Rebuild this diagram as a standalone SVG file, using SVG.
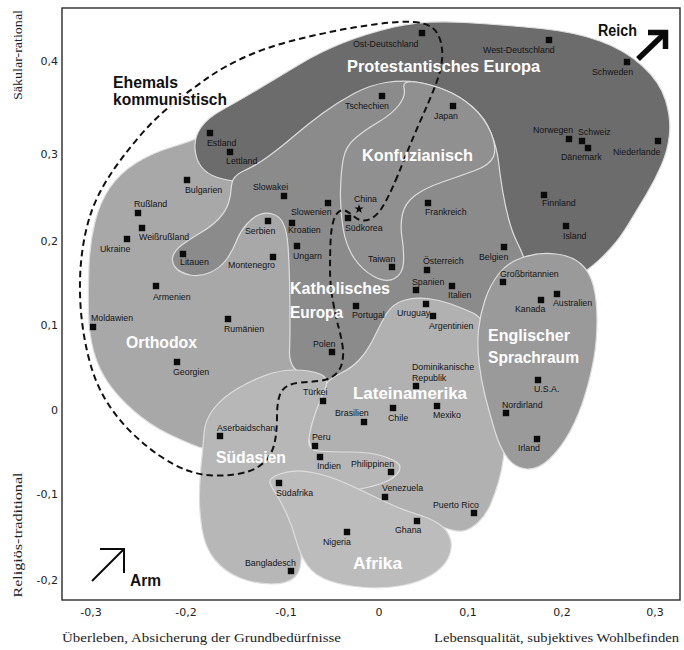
<svg xmlns="http://www.w3.org/2000/svg" xmlns:xlink="http://www.w3.org/1999/xlink" width="684" height="650" viewBox="0 0 684 650">
  <style>
    .rg { stroke: #dedede; stroke-width: 1.2; stroke-linejoin: round; }
    .lbl { font-family: "Liberation Sans", Arial, sans-serif; font-size: 8.8px; fill: #141414; }
    .reg { font-family: "Liberation Sans", Arial, sans-serif; font-weight: bold; font-size: 17px; fill: #ffffff; }
    .blk { font-family: "Liberation Sans", Arial, sans-serif; font-weight: bold; font-size: 16px; fill: #111111; }
    .tick { font-family: "DejaVu Sans", Verdana, sans-serif; font-size: 11px; fill: #222222; }
    .axt { font-family: "Liberation Serif", "DejaVu Serif", serif; font-size: 12.5px; fill: #222222; }
    .vax { font-family: "Liberation Serif", "DejaVu Serif", serif; font-size: 12.5px; fill: #222222; }
    .mk { fill: #0b0b0b; }
  </style>
  <defs>
    <rect id="mk" class="mk" x="-3.2" y="-3.2" width="6.4" height="6.4"/>
  </defs>
  <rect width="684" height="650" fill="#ffffff"/>

  <!-- cultural zones, back to front -->
  <g id="zone-orthodox">
    <path class="rg" fill="#a8a8a8" d="M203.5,135.5 Q192,141 172,147 Q152,153 136,163 Q120,173 110,187.5 Q100,202 95,222 Q90,242 89,266 Q88,290 88.5,312.5 Q89,335 94,352.5 Q99,370 109,384 Q119,398 134.5,411.5 Q150,425 167.5,433.5 Q185,442 198.5,447 Q212,452 231,428.5 Q250,405 285,395 Q320,385 315,292.5 Q310,200 275,186 Q240,172 227.5,151 Q215,130 203.5,135.5 Z"/>
  </g>
  <g id="zone-protestant">
    <path class="rg" fill="#6c6c6c" d="M201.5,167 Q196,160 195,149 Q194,138 200.5,128 Q207,118 223.5,109 Q240,100 260,88 Q280,76 300,64 Q320,52 342.5,43 Q365,34 394,27 Q423,20 465,22.5 Q507,25 541,28.5 Q575,32 600,41 Q625,50 642.5,66 Q660,82 665.5,100 Q671,118 669.5,134 Q668,150 661.5,165 Q655,180 646,195 Q637,210 628.5,224 Q620,238 611,248 Q602,258 593.5,265 Q585,272 570,282 Q555,292 512.5,276 Q470,260 435,240 Q400,220 350,196 Q300,172 277.5,177 Q255,182 241.5,181.5 Q228,181 217.5,177.5 Q207,174 201.5,167 Z"/>
  </g>
  <g id="zone-catholic">
    <path class="rg" fill="#8b8b8b" d="M243.5,171 Q232,176 231.5,185.5 Q231,195 228.5,203 Q226,211 219,218.5 Q212,226 201,232.5 Q190,239 182.5,244.5 Q175,250 173,256 Q171,262 175.5,267.5 Q180,273 190,275 Q200,277 210,272.5 Q220,268 226,260 Q232,252 236,242 Q240,232 246,225 Q252,218 258.5,215 Q265,212 272.5,214 Q280,216 283.5,224 Q287,232 288,246 Q289,260 289.5,280 Q290,300 290,320 Q290,340 289.5,351 Q289,362 294.5,368.5 Q300,375 315,381.5 Q330,388 342.5,394 Q355,400 387.5,372.5 Q420,345 456,345 Q492,345 511,310 Q530,275 526,263.5 Q522,252 517,242 Q512,232 508.5,218.5 Q505,205 502.5,190 Q500,175 498.5,161.5 Q497,148 491,133 Q485,118 472.5,107 Q460,96 445,90 Q430,84 416,82 Q402,80 386,82.5 Q370,85 354,93.5 Q338,102 323,113 Q308,124 294,136 Q280,148 267.5,157 Q255,166 243.5,171 Z"/>
  </g>
  <g id="zone-confucian">
    <path class="rg" fill="#909090" d="M404,88 Q402,80 416,82 Q430,84 445,90 Q460,96 472.5,107 Q485,118 491,133 Q497,148 493.5,156.5 Q490,165 475,170.5 Q460,176 442.5,182 Q425,188 415,195.5 Q405,203 402.5,214 Q400,225 402,237.5 Q404,250 403.5,262 Q403,274 394.5,278.5 Q386,283 374,276.5 Q362,270 354,258 Q346,246 343,228 Q340,210 340.5,190 Q341,170 343.5,158 Q346,146 355.5,138 Q365,130 378.5,122 Q392,114 399,105 Q406,96 404,88 Z"/>
  </g>
  <g id="zone-latin-america">
    <path class="rg" fill="#b1b1b1" d="M321,389 Q330,378 341,373 Q352,368 360,359 Q368,350 374,337.5 Q380,325 386,314.5 Q392,304 403.5,300.5 Q415,297 427.5,298.5 Q440,300 451,304 Q462,308 473,313 Q484,318 485,334 Q486,350 488,370 Q490,390 495,405 Q500,420 502.5,432.5 Q505,445 503.5,457.5 Q502,470 498.5,482 Q495,494 490.5,504.5 Q486,515 478,522.5 Q470,530 462.5,531 Q455,532 442.5,527 Q430,522 405,515 Q380,508 355,495 Q330,482 317.5,461 Q305,440 308.5,420 Q312,400 321,389 Z"/>
  </g>
  <g id="zone-english">
    <path class="rg" fill="#9a9a9a" d="M524,257 Q540,252 556,254 Q572,256 581,264 Q590,272 593.5,286 Q597,300 597,320 Q597,340 594,357.5 Q591,375 585,395 Q579,415 570,431.5 Q561,448 549.5,459 Q538,470 526.5,469 Q515,468 507.5,458 Q500,448 495,431.5 Q490,415 485.5,397.5 Q481,380 479,362.5 Q477,345 478.5,330 Q480,315 485,300 Q490,285 499,273.5 Q508,262 524,257 Z"/>
  </g>
  <g id="zone-south-asia">
    <path class="rg" fill="#b7b7b7" d="M201.5,461 Q203,447 204,433.5 Q205,420 213.5,409 Q222,398 236,389.5 Q250,381 265,375.5 Q280,370 295,370 Q310,370 320,374 Q330,378 325,389 Q320,400 315.5,412.5 Q311,425 309,437.5 Q307,450 318.5,451 Q330,452 350,452 Q370,452 382.5,456 Q395,460 398.5,464 Q402,468 397.5,473.5 Q393,479 384,482.5 Q375,486 360,489 Q345,492 327.5,501 Q310,510 305,525 Q300,540 301,555 Q302,570 295,577 Q288,584 271.5,584 Q255,584 240,578 Q225,572 215,560 Q205,548 202,529 Q199,510 199.5,492.5 Q200,475 201.5,461 Z"/>
  </g>
  <g id="zone-africa">
    <path class="rg" fill="#bcbcbc" d="M270,483 Q268,478 281.5,473.5 Q295,469 312.5,472.5 Q330,476 347.5,484 Q365,492 382.5,500.5 Q400,509 415,513.5 Q430,518 439,524 Q448,530 450.5,539.5 Q453,549 448,558.5 Q443,568 431.5,575 Q420,582 402.5,585.5 Q385,589 365,587.5 Q345,586 330,581 Q315,576 307.5,565.5 Q300,555 296,540 Q292,525 286,512.5 Q280,500 276,494 Q272,488 270,483 Z"/>
  </g>

  <!-- former communist boundary and direction arrows -->
  <g id="connectors" fill="none" stroke="#111111">
    <path id="ex-communist" stroke-width="2" stroke-dasharray="6.5 4" d="M397.5,176 Q393,187 389,195 Q385,203 381.5,208.5 Q378,214 373,217.5 Q368,221 363,220.5 Q358,220 354,216.5 Q350,213 346,211 Q342,209 338.5,212 Q335,215 333,222.5 Q331,230 330.5,242.5 Q330,255 330,270 Q330,285 333,301.5 Q336,318 338.5,327 Q341,336 342.5,345.5 Q344,355 342,363 Q340,371 334,375.5 Q328,380 319,381 Q310,382 301,382.5 Q292,383 286.5,386.5 Q281,390 279,397.5 Q277,405 277,416.5 Q277,428 275.5,438 Q274,448 270,455 Q266,462 258,467 Q250,472 237.5,474 Q225,476 212.5,475.5 Q200,475 187.5,470.5 Q175,466 160,456 Q145,446 130,431 Q115,416 104.5,398 Q94,380 88,355 Q82,330 80.5,305 Q79,280 81.5,257.5 Q84,235 90,216 Q96,197 108.5,177.5 Q121,158 138.5,137.5 Q156,117 174.5,102.5 Q193,88 209,77 Q225,66 245,57 Q265,48 287.5,42 Q310,36 332.5,31.5 Q355,27 377.5,24 Q400,21 413,22 Q426,23 432,27.5 Q438,32 440.5,41 Q443,50 442,60 Q441,70 437,81 Q433,92 428,103.5 Q423,115 417.5,127.5 Q412,140 407,152.5 Q402,165 397.5,176 Z"/>
    <g id="arrow-rich" stroke="#0a0a0a" stroke-width="5.5" stroke-linejoin="miter">
      <line x1="638" y1="59" x2="663" y2="35"/>
      <polyline points="648,32.5 665.5,32.5 665.5,49"/>
    </g>
    <g id="arrow-poor" stroke="#0a0a0a" stroke-width="2">
      <line x1="92" y1="581" x2="123.5" y2="549.5"/>
      <polyline points="100,549 124,549 124,573"/>
    </g>
  </g>

  <!-- plot frame and axes -->
  <g id="axes">
    <rect x="62" y="8" width="618" height="592" fill="none" stroke="#2a2a2a" stroke-width="1.4"/>
    <g class="tick" text-anchor="end">
      <text x="58" y="65">0,4</text>
      <text x="58" y="158">0,3</text>
      <text x="58" y="245">0,2</text>
      <text x="58" y="329">0,1</text>
      <text x="58" y="414">0</text>
      <text x="58" y="498">-0,1</text>
      <text x="58" y="584">-0,2</text>
    </g>
    <g class="tick" text-anchor="middle">
      <text x="91" y="616">-0,3</text>
      <text x="186" y="616">-0,2</text>
      <text x="286" y="616">-0,1</text>
      <text x="379" y="616">0</text>
      <text x="468" y="616">0,1</text>
      <text x="562" y="616">0,2</text>
      <text x="655" y="616">0,3</text>
    </g>
    <text class="axt" x="62" y="642" textLength="279" lengthAdjust="spacingAndGlyphs">Überleben, Absicherung der Grundbedürfnisse</text>
    <text class="axt" x="434" y="642" textLength="245" lengthAdjust="spacingAndGlyphs">Lebensqualität, subjektives Wohlbefinden</text>
    <text class="vax" transform="translate(22,55) rotate(-90)" text-anchor="middle" textLength="90" lengthAdjust="spacingAndGlyphs">Säkular-rational</text>
    <text class="vax" transform="translate(22,535) rotate(-90)" text-anchor="middle" textLength="125" lengthAdjust="spacingAndGlyphs">Religiös-traditional</text>
  </g>

  <!-- countries -->
  <g id="countries" class="lbl">
    <g id="ost-deutschland"><use href="#mk" x="422" y="33"/><text x="353" y="47">Ost-Deutschland</text></g>
    <g id="west-deutschland"><use href="#mk" x="549" y="40"/><text x="483" y="53">West-Deutschland</text></g>
    <g id="schweden"><use href="#mk" x="627" y="62"/><text x="592" y="75">Schweden</text></g>
    <g id="estland"><use href="#mk" x="210" y="133"/><text x="207" y="146">Estland</text></g>
    <g id="lettland"><use href="#mk" x="230" y="152"/><text x="226" y="164">Lettland</text></g>
    <g id="tschechien"><use href="#mk" x="382" y="96"/><text x="345" y="109">Tschechien</text></g>
    <g id="japan"><use href="#mk" x="453" y="106"/><text x="434" y="119">Japan</text></g>
    <g id="norwegen"><use href="#mk" x="569" y="139"/><text x="533" y="133">Norwegen</text></g>
    <g id="schweiz"><use href="#mk" x="582" y="141"/><text x="578" y="135">Schweiz</text></g>
    <g id="daenemark"><use href="#mk" x="588" y="148"/><text x="561" y="160">Dänemark</text></g>
    <g id="niederlande"><use href="#mk" x="658" y="141"/><text x="613" y="155">Niederlande</text></g>
    <g id="finnland"><use href="#mk" x="544" y="195"/><text x="542" y="206">Finnland</text></g>
    <g id="island"><use href="#mk" x="566" y="226"/><text x="563" y="239">Island</text></g>
    <g id="bulgarien"><use href="#mk" x="187" y="180"/><text x="185" y="193">Bulgarien</text></g>
    <g id="slowakei"><use href="#mk" x="284" y="196"/><text x="253" y="190">Slowakei</text></g>
    <g id="russland"><use href="#mk" x="138" y="213"/><text x="134" y="207">Rußland</text></g>
    <g id="weissrussland"><use href="#mk" x="142" y="228"/><text x="139" y="240">Weißrußland</text></g>
    <g id="ukraine"><use href="#mk" x="127" y="239"/><text x="100" y="252">Ukraine</text></g>
    <g id="slowenien"><use href="#mk" x="328" y="203"/><text x="291" y="215">Slowenien</text></g>
    <g id="kroatien"><use href="#mk" x="292" y="223"/><text x="288" y="233">Kroatien</text></g>
    <g id="ungarn"><use href="#mk" x="297" y="246"/><text x="293" y="259">Ungarn</text></g>
    <g id="china"><polygon class="mk" points="359,204.2 360.12,207.46 363.57,207.52 360.81,209.59 361.82,212.88 359,210.9 356.18,212.88 357.19,209.59 354.43,207.52 357.88,207.46"/><text x="354" y="202">China</text></g>
    <g id="suedkorea"><use href="#mk" x="348" y="218"/><text x="345" y="231">Südkorea</text></g>
    <g id="taiwan"><use href="#mk" x="392" y="267"/><text x="368" y="262">Taiwan</text></g>
    <g id="frankreich"><use href="#mk" x="428" y="203"/><text x="425" y="215">Frankreich</text></g>
    <g id="serbien"><use href="#mk" x="268" y="221"/><text x="245" y="234">Serbien</text></g>
    <g id="litauen"><use href="#mk" x="183" y="254"/><text x="180" y="265">Litauen</text></g>
    <g id="montenegro"><use href="#mk" x="273" y="257"/><text x="228" y="268">Montenegro</text></g>
    <g id="armenien"><use href="#mk" x="156" y="286"/><text x="153" y="300">Armenien</text></g>
    <g id="moldawien"><use href="#mk" x="93" y="327"/><text x="91" y="321">Moldawien</text></g>
    <g id="rumaenien"><use href="#mk" x="228" y="319"/><text x="224" y="332">Rumänien</text></g>
    <g id="georgien"><use href="#mk" x="177" y="362"/><text x="173" y="375">Georgien</text></g>
    <g id="polen"><use href="#mk" x="332" y="352"/><text x="313" y="347">Polen</text></g>
    <g id="portugal"><use href="#mk" x="356" y="306"/><text x="352" y="318">Portugal</text></g>
    <g id="uruguay"><use href="#mk" x="426" y="304"/><text x="397" y="316">Uruguay</text></g>
    <g id="argentinien"><use href="#mk" x="433" y="316"/><text x="429" y="329">Argentinien</text></g>
    <g id="oesterreich"><use href="#mk" x="427" y="270"/><text x="423" y="264">Österreich</text></g>
    <g id="spanien"><use href="#mk" x="416" y="290"/><text x="412" y="285">Spanien</text></g>
    <g id="italien"><use href="#mk" x="452" y="286"/><text x="448" y="298">Italien</text></g>
    <g id="belgien"><use href="#mk" x="504" y="247"/><text x="479" y="260">Belgien</text></g>
    <g id="grossbritannien"><use href="#mk" x="503" y="282"/><text x="500" y="277">Großbritannien</text></g>
    <g id="kanada"><use href="#mk" x="541" y="300"/><text x="515" y="312">Kanada</text></g>
    <g id="australien"><use href="#mk" x="557" y="294"/><text x="553" y="306">Australien</text></g>
    <g id="usa"><use href="#mk" x="538" y="380"/><text x="534" y="392">U.S.A.</text></g>
    <g id="nordirland"><use href="#mk" x="506" y="413"/><text x="502" y="408">Nordirland</text></g>
    <g id="irland"><use href="#mk" x="537" y="439"/><text x="518" y="451">Irland</text></g>
    <g id="dominikanische-republik"><use href="#mk" x="416" y="386"/><text x="412" y="370">Dominikanische</text><text x="412" y="381">Republik</text></g>
    <g id="brasilien"><use href="#mk" x="364" y="422"/><text x="335" y="416">Brasilien</text></g>
    <g id="chile"><use href="#mk" x="393" y="408"/><text x="388" y="421">Chile</text></g>
    <g id="mexiko"><use href="#mk" x="437" y="406"/><text x="433" y="418">Mexiko</text></g>
    <g id="tuerkei"><use href="#mk" x="323" y="401"/><text x="303" y="395">Türkei</text></g>
    <g id="peru"><use href="#mk" x="315" y="446"/><text x="312" y="440">Peru</text></g>
    <g id="indien"><use href="#mk" x="320" y="457"/><text x="317" y="469">Indien</text></g>
    <g id="philippinen"><use href="#mk" x="391" y="472"/><text x="351" y="467">Philippinen</text></g>
    <g id="venezuela"><use href="#mk" x="385" y="497"/><text x="382" y="491">Venezuela</text></g>
    <g id="puerto-rico"><use href="#mk" x="474" y="513"/><text x="433" y="508">Puerto Rico</text></g>
    <g id="ghana"><use href="#mk" x="417" y="521"/><text x="395" y="533">Ghana</text></g>
    <g id="nigeria"><use href="#mk" x="347" y="532"/><text x="323" y="545">Nigeria</text></g>
    <g id="suedafrika"><use href="#mk" x="279" y="483"/><text x="276" y="496">Südafrika</text></g>
    <g id="aserbaidschan"><use href="#mk" x="220" y="436"/><text x="217" y="431">Aserbaidschan</text></g>
    <g id="bangladesch"><use href="#mk" x="291" y="571"/><text x="245" y="566">Bangladesch</text></g>
  </g>

  <!-- zone names -->
  <g id="zone-labels" class="reg">
    <text x="347" y="72" textLength="193" lengthAdjust="spacingAndGlyphs">Protestantisches Europa</text>
    <text x="362" y="161" textLength="111" lengthAdjust="spacingAndGlyphs">Konfuzianisch</text>
    <text x="290" y="294" textLength="100" lengthAdjust="spacingAndGlyphs">Katholisches</text>
    <text x="290" y="318" textLength="53" lengthAdjust="spacingAndGlyphs">Europa</text>
    <text x="126" y="348" textLength="71" lengthAdjust="spacingAndGlyphs">Orthodox</text>
    <text x="488" y="341" textLength="82" lengthAdjust="spacingAndGlyphs">Englischer</text>
    <text x="488" y="363" textLength="91" lengthAdjust="spacingAndGlyphs">Sprachraum</text>
    <text x="353" y="399" textLength="114" lengthAdjust="spacingAndGlyphs">Lateinamerika</text>
    <text x="216" y="463" textLength="70" lengthAdjust="spacingAndGlyphs">Südasien</text>
    <text x="353" y="569" textLength="49" lengthAdjust="spacingAndGlyphs">Afrika</text>
  </g>
  <g id="ex-communist-label" class="blk" stroke="#ffffff" stroke-width="3" paint-order="stroke" stroke-linejoin="round">
    <text x="113" y="88" textLength="65" lengthAdjust="spacingAndGlyphs">Ehemals</text>
    <text x="113" y="105" textLength="114" lengthAdjust="spacingAndGlyphs">kommunistisch</text>
  </g>
  <g id="direction-labels" class="blk">
    <text x="598" y="36" textLength="39" lengthAdjust="spacingAndGlyphs">Reich</text>
    <text x="130" y="586" textLength="31" lengthAdjust="spacingAndGlyphs">Arm</text>
  </g>
</svg>
